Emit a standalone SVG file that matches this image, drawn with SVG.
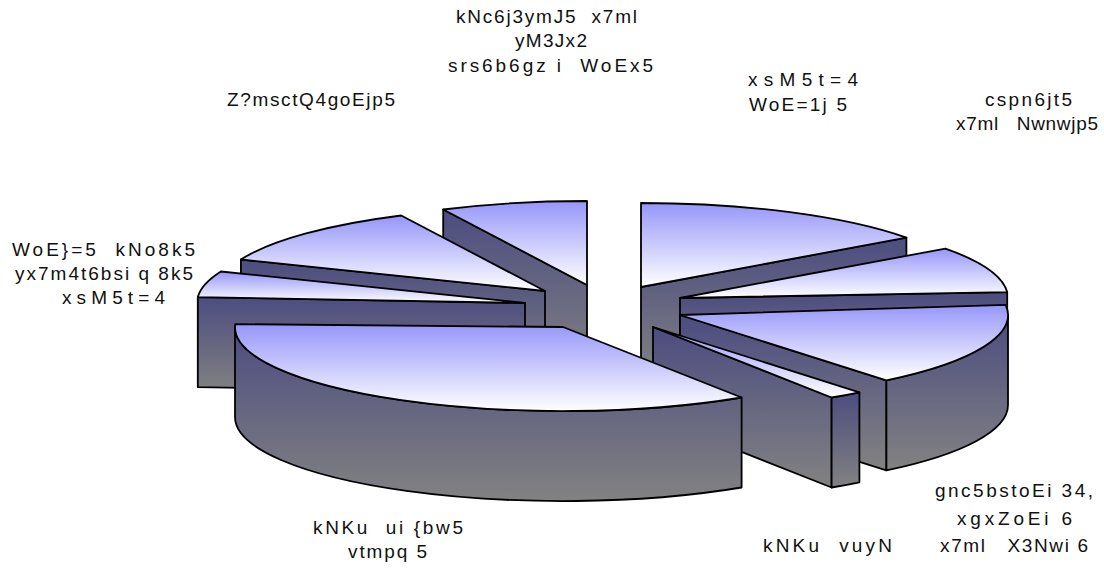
<svg xmlns="http://www.w3.org/2000/svg" width="1104" height="571" viewBox="0 0 1104 571">
<defs>
<linearGradient id="gTop" x1="0" y1="0" x2="0" y2="1">
<stop offset="0" stop-color="#9696fa"/>
<stop offset="1" stop-color="#ffffff"/>
</linearGradient>
<linearGradient id="gSide" x1="0" y1="0" x2="0" y2="1">
<stop offset="0" stop-color="#4c4c80"/>
<stop offset="1" stop-color="#828282"/>
</linearGradient>
</defs>
<style>
.top{fill:url(#gTop);stroke:#000;stroke-width:1.8;stroke-linejoin:round}
.side{fill:url(#gSide);stroke:#000;stroke-width:1.8;stroke-linejoin:round}
text{font-family:"Liberation Sans",Arial,sans-serif;font-size:19px;fill:#111;white-space:pre}
</style>
<rect width="1104" height="571" fill="#fff"/>

<g id="slice-I">
<path class="side" d="M641,287 L906.4,237.6 L906.4,327.6 L641,377 Z"/>
<path class="top" d="M641,287 L641,203 A328,84 0 0 1 906.4,237.6 Z"/>
</g>
<g id="slice-A">
<path class="side" d="M587,285 L443.2,209.5 L443.2,299.5 L587,375 Z"/>
<path class="top" d="M587,285 L443.2,209.5 A328,84 0 0 1 587,201 Z"/>
</g>
<g id="slice-H">
<path class="side" d="M680,298 L1007.2,292.1 L1007.2,382.1 L680,388 Z"/>
<path class="top" d="M680,298 L945.4,248.6 A328,84 0 0 1 1007.2,292.1 Z"/>
</g>
<g id="slice-B">
<path class="side" d="M545,291 L240.9,259.5 L240.9,349.5 L545,381 Z"/>
<path class="top" d="M545,291 L240.9,259.5 A328,84 0 0 1 401.2,215.5 Z"/>
</g>
<g id="slice-C">
<path class="side" d="M525,303 L197.8,297.1 L197.8,387.1 L525,393 Z"/>
<path class="top" d="M525,303 L197.8,297.1 A328,84 0 0 1 220.9,271.5 Z"/>
</g>
<g id="slice-G">
<path class="side" d="M680,315 L886.4,380.3 L886.4,470.3 L680,405 Z"/>
<path class="side" d="M1008,315 A328,84 0 0 1 886.4,380.3 L886.4,470.3 A328,84 0 0 0 1008,405 Z"/>
<path class="top" d="M680,315 L1005.6,304.8 A328,84 0 0 1 886.4,380.3 Z"/>
</g>
<g id="slice-F">
<path class="side" d="M653,327 L831.6,397.5 L831.6,487.5 L653,417 Z"/>
<path class="side" d="M859.4,392.3 A328,84 0 0 1 831.6,397.5 L831.6,487.5 A328,84 0 0 0 859.4,482.3 Z"/>
<path class="top" d="M653,327 L859.4,392.3 A328,84 0 0 1 831.6,397.5 Z"/>
</g>
<g id="slice-E">
<path class="side" d="M741.6,397.5 A328,84 0 0 1 235,327 L235,417 A328,84 0 0 0 741.6,487.5 Z"/>
<path class="top" d="M563,327 L741.6,397.5 A328,84 0 0 1 235.2,324.1 Z"/>
</g>

<g id="labels">
<text x="456" y="23" textLength="181" lengthAdjust="spacing" xml:space="preserve">kNc6j3ymJ5  x7ml</text>
<text x="515" y="47" textLength="72" lengthAdjust="spacing">yM3Jx2</text>
<text x="448" y="72" textLength="205" lengthAdjust="spacing" xml:space="preserve">srs6b6gz i  WoEx5</text>
<text x="227" y="106" textLength="168" lengthAdjust="spacing">Z?msctQ4goEjp5</text>
<text x="748" y="86" textLength="110" lengthAdjust="spacing">xsM5t=4</text>
<text x="749" y="111" textLength="98" lengthAdjust="spacing">WoE=1j 5</text>
<text x="985" y="106" textLength="87" lengthAdjust="spacing">cspn6jt5</text>
<text x="956" y="130" textLength="142" lengthAdjust="spacing" xml:space="preserve">x7ml   Nwnwjp5</text>
<text x="12" y="256" textLength="183" lengthAdjust="spacing" xml:space="preserve">WoE}=5  kNo8k5</text>
<text x="15" y="280" textLength="178" lengthAdjust="spacing">yx7m4t6bsi q 8k5</text>
<text x="62" y="304" textLength="103" lengthAdjust="spacing">xsM5t=4</text>
<text x="313" y="534" textLength="150" lengthAdjust="spacing" xml:space="preserve">kNKu  ui {bw5</text>
<text x="348" y="558" textLength="79" lengthAdjust="spacing">vtmpq 5</text>
<text x="763" y="552" textLength="129" lengthAdjust="spacing" xml:space="preserve">kNKu  vuyN</text>
<text x="935" y="497" textLength="158" lengthAdjust="spacing">gnc5bstoEi 34,</text>
<text x="957" y="525" textLength="115" lengthAdjust="spacing">xgxZoEi 6</text>
<text x="940" y="552" textLength="148" lengthAdjust="spacing" xml:space="preserve">x7ml   X3Nwi 6</text>
</g>
</svg>
